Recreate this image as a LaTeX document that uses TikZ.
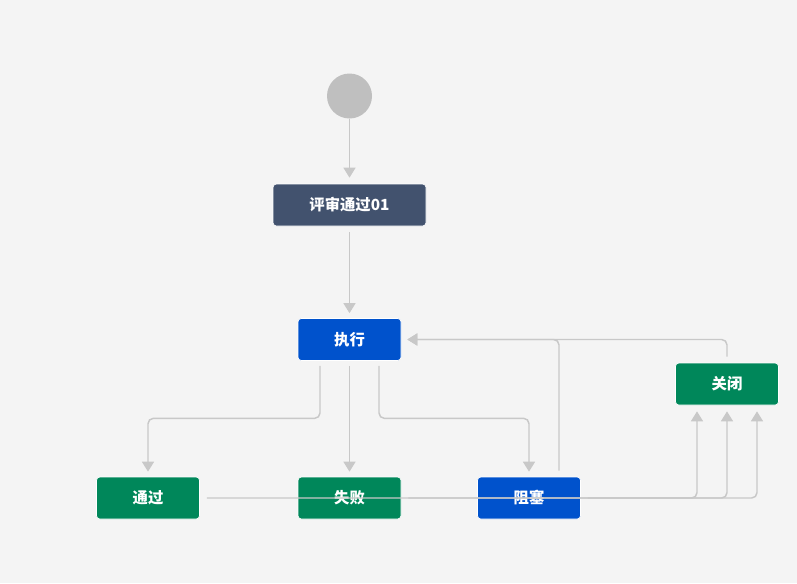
\documentclass[tikz,border=0pt]{standalone}
\usepackage{fontspec}
\newfontfamily\cjk{Noto Sans CJK SC}
\usetikzlibrary{arrows.meta,calc}
\definecolor{bg}{HTML}{F4F4F4}
\definecolor{linegray}{HTML}{C8C8C8}
\definecolor{startgray}{HTML}{BFBFBF}
\definecolor{slate}{HTML}{42526E}
\definecolor{jblue}{HTML}{0052CC}
\definecolor{jgreen}{HTML}{00875A}
\tikzset{
  state/.style={draw=white, line width=0.5pt, rounded corners=2.5pt, minimum width=77.25pt, minimum height=31.5pt, inner sep=0pt, text=white, font=\cjk\bfseries\fontsize{11.5pt}{14pt}\selectfont},
  todo/.style={state, fill=slate},
  doing/.style={state, fill=jblue},
  done/.style={state, fill=jgreen},
  edge/.style={draw=linegray, line width=1.1pt, rounded corners=4pt, -{Triangle[width=9pt,length=7.5pt]}},
  plain/.style={draw=linegray, line width=1.1pt, rounded corners=4pt}
}
\begin{document}
\begin{tikzpicture}[x=0.75pt,y=-0.75pt]
\fill[bg] (0,0) rectangle (797,583);
\useasboundingbox (0,0) rectangle (797,583);
\node[circle, fill=startgray, minimum size=33.75pt, inner sep=0pt] (start) at (349.5,96) {};
\node[todo, minimum width=114.75pt] (review) at (349.5,205) {评审通过01};
\node[doing] (exec) at (349.5,339.5) {执行};
\node[done] (pass) at (148,498) {通过};
\node[done] (fail) at (349.5,498) {失败};
\node[doing] (block) at (529,498) {阻塞};
\node[done] (close) at (727,384) {关闭};
\draw[edge] (start.south) -- ($(review.north)+(0,-6)$);
\draw[edge] ($(review.south)+(0,6)$) -- ($(exec.north)+(0,-5)$);
\draw[edge] ($(exec.south)+(-29.5,5)$) -- ++(0,52.5) -| ($(pass.north)+(0,-5)$);
\draw[edge] ($(exec.south)+(0,5)$) -- ($(fail.north)+(0,-5)$);
\draw[edge] ($(exec.south)+(29.5,5)$) -- ++(0,52.5) -| ($(block.north)+(0,-5)$);
\draw[edge] ($(block.north)+(30,-6)$) |- ($(exec.east)+(6,0)$);
\draw[edge] ($(close.north)+(0,-6)$) |- ($(exec.east)+(6,0)$);
\draw[edge] ($(pass.east)+(7,0)$) -| ($(close.south)+(-30,6)$);
\draw[edge] ($(fail.east)+(7,0)$) -| ($(close.south)+(0,6)$);
\draw[edge] ($(block.east)+(7,0)$) -| ($(close.south)+(30,6)$);
\end{tikzpicture}
\end{document}
